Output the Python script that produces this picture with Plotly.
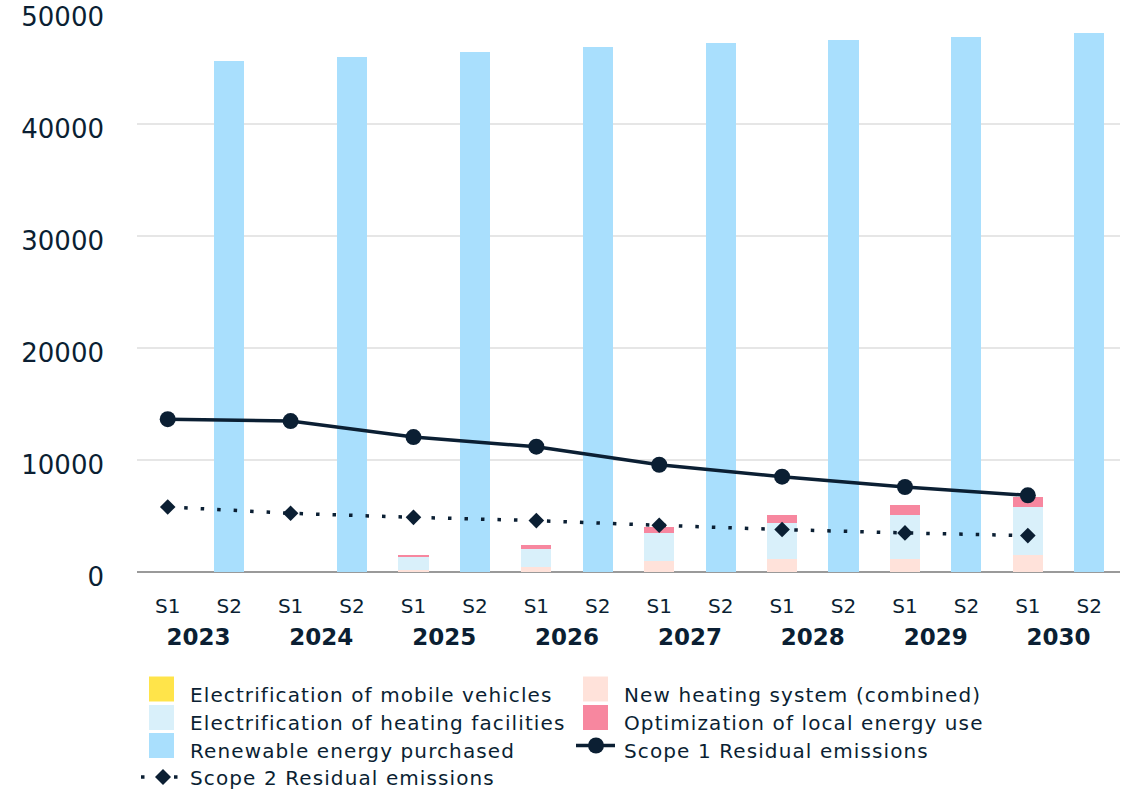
import plotly.graph_objects as go

# Emission reduction pathway, tonnes CO2e
years = ["2023", "2024", "2025", "2026", "2027", "2028", "2029", "2030"]
scopes = ["S1", "S2"]

mobile_vehicles = [0, 0, 0, 0, 0, 0, 0, 0]
new_heating = [0, 0, 220, 430, 960, 1140, 1180, 1530]
heating_facilities = [0, 0, 1100, 1600, 2500, 3210, 3890, 4240]
local_optimization = [0, 0, 210, 420, 570, 750, 950, 890]
renewable_purchased = [45600, 45950, 46450, 46850, 47200, 47550, 47750, 48100]
scope1_residual = [13650, 13480, 12050, 11190, 9580, 8510, 7590, 6850]
scope2_residual = [5810, 5240, 4880, 4590, 4170, 3790, 3490, 3250]

legend_labels = [
    "Electrification of mobile vehicles",
    "New heating system (combined)",
    "Electrification of heating facilities",
    "Optimization of local energy use",
    "Renewable energy purchased",
    "Scope 1 Residual emissions",
    "Scope 2 Residual emissions",
]

NAVY = "#0B1F33"
YELLOW = "#FFE44A"
PEACH = "#FFE2DA"
ICE = "#D9F0FA"
PINK = "#F7879F"
SKY = "#A9DFFD"
FONT = "DejaVu Sans"

year_tags = [f"<span style='font-size:23px'><b>{y}</b></span>" for y in years]
x_s1 = [year_tags, [scopes[0]] * len(years)]
x_s2 = [year_tags, [scopes[1]] * len(years)]

fig = go.Figure()

for label, vals, color in [
    (legend_labels[0], mobile_vehicles, YELLOW),
    (legend_labels[1], new_heating, PEACH),
    (legend_labels[2], heating_facilities, ICE),
    (legend_labels[3], local_optimization, PINK),
]:
    fig.add_trace(go.Bar(x=x_s1, y=vals, name=label, marker_color=color,
                         marker_line_width=0, showlegend=False))

fig.add_trace(go.Bar(x=x_s2, y=renewable_purchased, name=legend_labels[4],
                     marker_color=SKY, marker_line_width=0, showlegend=False))

fig.add_trace(go.Scatter(x=x_s1, y=scope1_residual, name=legend_labels[5], mode="lines+markers",
                         line=dict(color=NAVY, width=3.5),
                         marker=dict(symbol="circle", size=16, color=NAVY), showlegend=False))
fig.add_trace(go.Scatter(x=x_s1, y=scope2_residual, name=legend_labels[6], mode="lines+markers",
                         line=dict(color=NAVY, width=3.5, dash="3.5px,13px"),
                         marker=dict(symbol="diamond", size=12, color=NAVY), showlegend=False))

# page geometry (px); the category labels sit below the zero line
W, H = 1128, 792
ML, MR, MT = 137, 8, 12
LABEL_DROP = 26
MB = 220 - LABEL_DROP
PW, PH = W - ML - MR, H - MT - MB


def px_x(px):
    return (px - ML) / PW


def px_y(py):
    return (H - MB - py) / PH


shapes = []
annotations = []
col_swatch = [149, 583]
col_text = [188, 622]
row_y = [689, 717.5, 745.5, 777]
text_y = [695, 723, 751, 778]
swatch = 25

entries = [
    (0, 0, "box", YELLOW),
    (1, 0, "box", PEACH),
    (0, 1, "box", ICE),
    (1, 1, "box", PINK),
    (0, 2, "box", SKY),
    (1, 2, "solid", NAVY),
    (0, 3, "dotted", NAVY),
]

for i, (col, row, kind, color) in enumerate(entries):
    cy = row_y[row]
    x0 = col_swatch[col]
    if kind == "box":
        shapes.append(dict(type="rect", xref="paper", yref="paper",
                           x0=px_x(x0), x1=px_x(x0 + swatch),
                           y0=px_y(cy - swatch / 2), y1=px_y(cy + swatch / 2),
                           fillcolor=color, line_width=0, layer="above"))
    elif kind == "solid":
        shapes.append(dict(type="line", xref="paper", yref="paper",
                           x0=px_x(576), x1=px_x(615), y0=px_y(cy), y1=px_y(cy),
                           line=dict(color=color, width=3.5), layer="above"))
        shapes.append(dict(type="circle", xref="paper", yref="paper",
                           x0=px_x(596 - 8), x1=px_x(596 + 8),
                           y0=px_y(cy - 8), y1=px_y(cy + 8),
                           fillcolor=color, line_width=0, layer="above"))
    else:
        shapes.append(dict(type="line", xref="paper", yref="paper",
                           x0=px_x(141), x1=px_x(179), y0=px_y(cy), y1=px_y(cy),
                           line=dict(color=color, width=3.5, dash="3.5px,13px"), layer="above"))
        dx, dy = 8, 8
        cx = 163
        shapes.append(dict(type="path", xref="paper", yref="paper",
                           path=(f"M {px_x(cx - dx)} {px_y(cy)} L {px_x(cx)} {px_y(cy - dy)} "
                                 f"L {px_x(cx + dx)} {px_y(cy)} L {px_x(cx)} {px_y(cy + dy)} Z"),
                           fillcolor=color, line_width=0, layer="above"))
    annotations.append(dict(xref="paper", yref="paper", x=px_x(col_text[col]), y=px_y(text_y[row]),
                            xanchor="left", yanchor="middle", showarrow=False,
                            text=f"<span style='letter-spacing:1.1px'>{legend_labels[i]}</span>",
                            font=dict(family=FONT, size=20, color=NAVY)))

fig.update_layout(
    width=W, height=H,
    margin=dict(l=ML, r=MR, t=MT, b=MB, pad=0, autoexpand=False),
    paper_bgcolor="white", plot_bgcolor="white",
    barmode="stack", bargap=0.51,
    showlegend=False,
    font=dict(family=FONT, color=NAVY),
    shapes=shapes, annotations=annotations,
)
fig.update_xaxes(
    type="multicategory", showdividers=False, range=[-0.5, 15.5],
    anchor="free", position=0, automargin=False,
    showline=False, showgrid=False, ticks="", ticklabelstandoff=-6,
    tickfont=dict(family=FONT, size=20, color=NAVY),
)
fig.update_yaxes(
    domain=[LABEL_DROP / PH, 1], automargin=False,
    range=[0, 50010], tickvals=[0, 10000, 20000, 30000, 40000, 50000],
    tickformat="d", showgrid=True, gridcolor="#E6E6E6", gridwidth=1.5,
    zeroline=True, zerolinecolor="#9A9A9A", zerolinewidth=2,
    ticks="", ticklabelstandoff=32, ticklabelshift=5, ticklabeloverflow="allow",
    tickfont=dict(family=FONT, size=26, color=NAVY),
)

fig.write_html("out.html")
